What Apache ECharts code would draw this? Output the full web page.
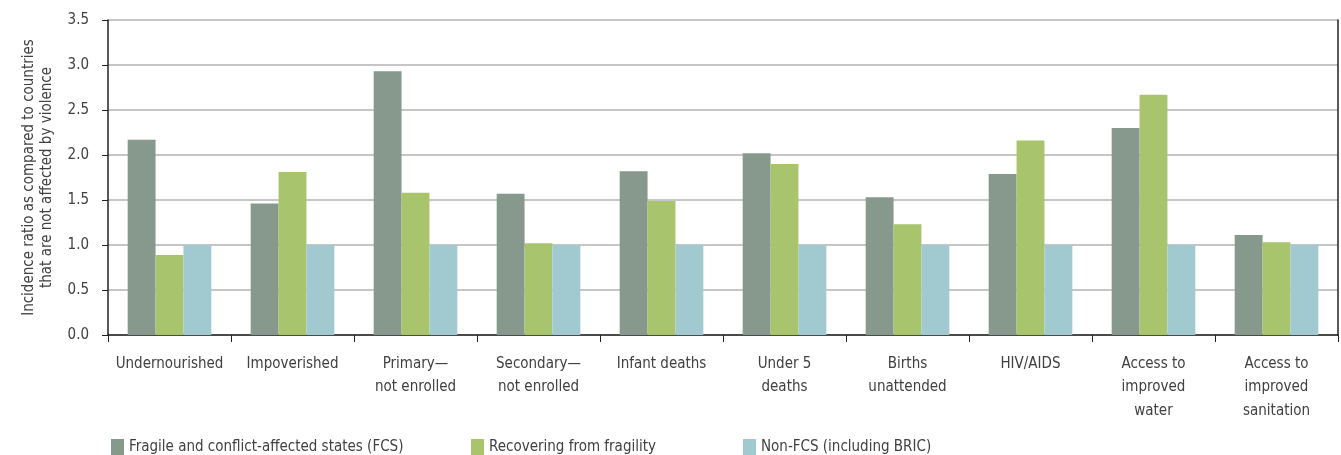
<!DOCTYPE html>
<html><head><meta charset="utf-8">
<script src="https://cdn.jsdelivr.net/npm/echarts@6/dist/echarts.min.js"></script>
<style>html,body{margin:0;padding:0;background:#fff}#c{width:1341px;height:455px}</style>
</head><body><div id="c"></div>
<script>
const categories = ['Undernourished','Impoverished','Primary—\nnot enrolled','Secondary—\nnot enrolled','Infant deaths','Under 5\ndeaths','Births\nunattended','HIV/AIDS','Access to\nimproved\nwater','Access to\nimproved\nsanitation'];
const fcs = [2.17,1.46,2.93,1.57,1.82,2.02,1.53,1.79,2.30,1.11];
const recovering = [0.89,1.81,1.58,1.02,1.49,1.90,1.23,2.16,2.67,1.03];
const nonFcs = [1,1,1,1,1,1,1,1,1,1];
const seriesNames = ['Fragile and conflict-affected states (FCS)','Recovering from fragility','Non-FCS (including BRIC)'];
const colors = ['#87998C','#A8C46C','#A1CAD0'];
const yTicks = ['0.0','0.5','1.0','1.5','2.0','2.5','3.0','3.5'];
const font = '"Liberation Sans Narrow","DejaVu Sans Condensed","Roboto Condensed",sans-serif';
const txt = '#404040';

const chart = echarts.init(document.getElementById('c'));
const legendLefts = [106, 466, 738];
chart.setOption({
  animation:false,
  textStyle:{fontFamily:font},
  grid:{left:108,right:3,top:20,bottom:120,containLabel:false},
  legend: seriesNames.map((n,i)=>({
    data:[n], left:legendLefts[i], top:434, icon:'rect', itemWidth:13, itemHeight:17, itemGap:8,
    textStyle:{fontFamily:font,fontSize:15,color:txt}, selectedMode:false
  })),
  xAxis:{
    type:'category', data:categories,
    axisLine:{lineStyle:{color:'#222',width:1.5}},
    axisTick:{show:true,length:7,lineStyle:{color:'#222'},alignWithLabel:false},
    axisLabel:{fontFamily:font,fontSize:15,color:txt,lineHeight:23.5,margin:17,interval:0}
  },
  yAxis:[{
    type:'value', min:0, max:3.5, interval:0.5,
    name:'Incidence ratio as compared to countries\nthat are not affected by violence',
    nameLocation:'middle', nameGap:52, nameRotate:90,
    nameTextStyle:{fontFamily:font,fontSize:15,color:txt,lineHeight:18},
    axisLine:{show:true,lineStyle:{color:'#222',width:1.5}},
    axisTick:{show:true,length:6,lineStyle:{color:'#222'}},
    axisLabel:{fontFamily:font,fontSize:15,color:txt,margin:19,formatter:(v)=>yTicks[Math.round(v*2)]},
    splitLine:{show:true,lineStyle:{color:'#b3b3b3',width:1.5}}
  },{
    type:'value', min:0, max:3.5, interval:0.5, position:'right',
    axisLine:{show:true,lineStyle:{color:'#222',width:1.5}},
    axisTick:{show:false}, axisLabel:{show:false}, splitLine:{show:false}
  }],
  series:[fcs,recovering,nonFcs].map((d,i)=>({
    name:seriesNames[i], type:'bar', data:d, barGap:'0%', barCategoryGap:'32%',
    itemStyle:{color:colors[i]}
  }))
});
</script></body></html>
